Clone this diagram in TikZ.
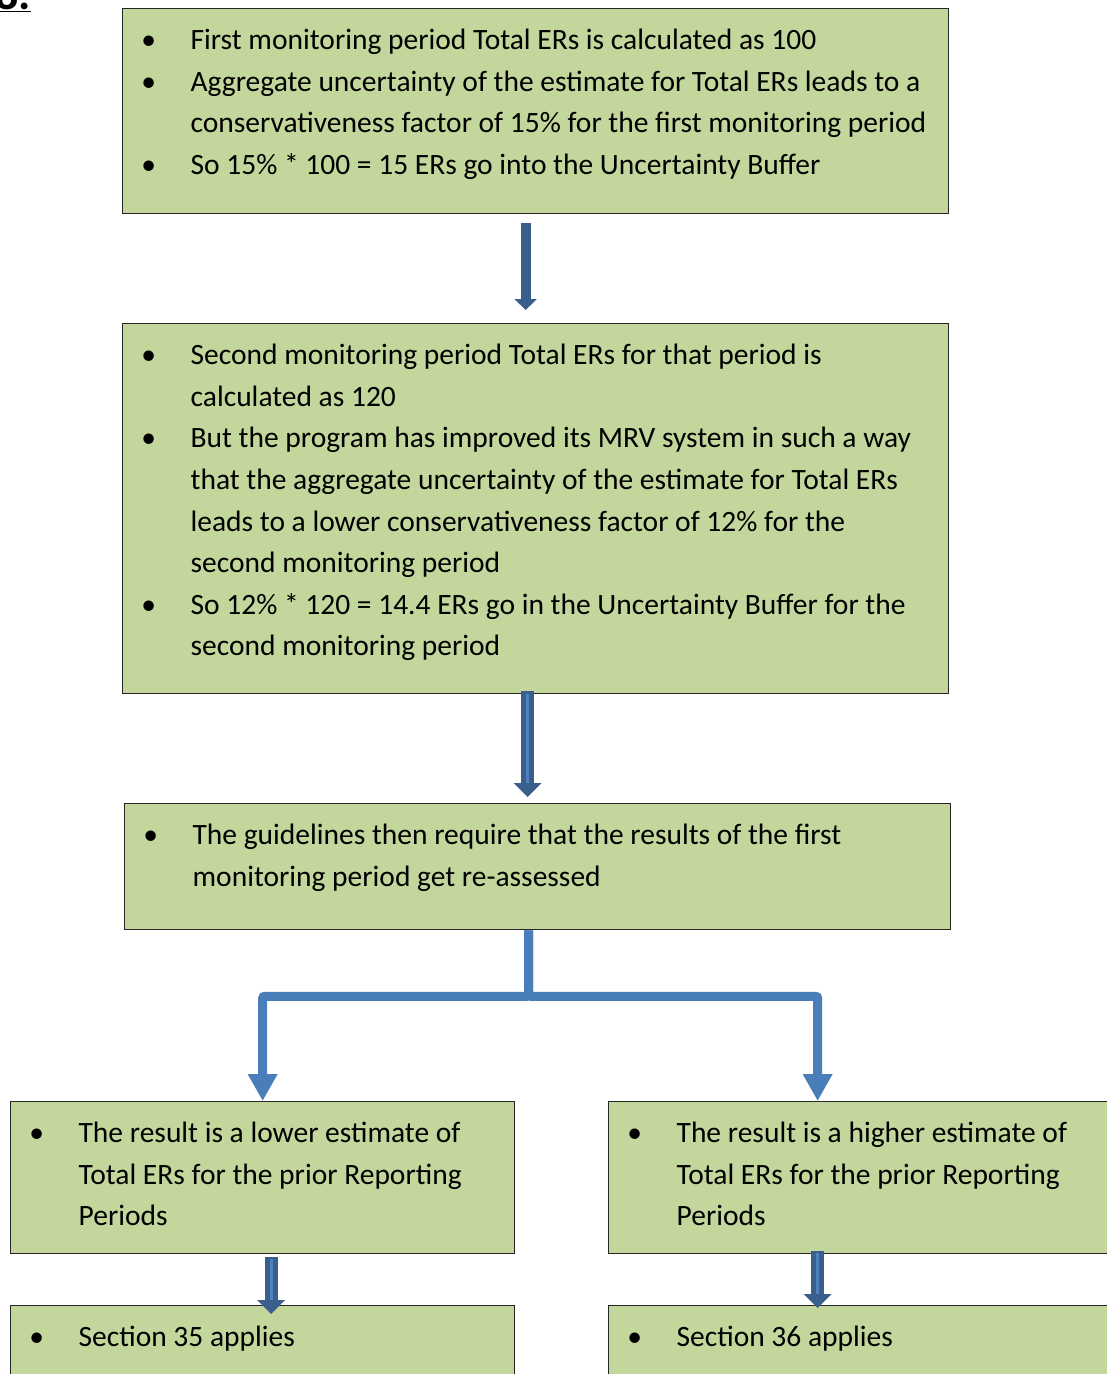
\documentclass[tikz,border=0pt]{standalone}
\usepackage{fontspec}
\setmainfont{Carlito}
\usetikzlibrary{arrows.meta,calc}

\definecolor{boxfill}{HTML}{C3D69B}
\definecolor{boxline}{HTML}{262626}
\definecolor{arrowdark}{HTML}{3A5F8C}
\definecolor{arrowlight}{HTML}{4F81BD}
\definecolor{forkblue}{HTML}{4A7EBB}

% one bulleted point, hanging under its first word
\newcommand{\bul}[1]{\par\noindent\hangindent=68pt\hangafter=1\hspace*{26pt}\makebox[0pt]{\textbullet}\hspace*{42pt}\rule{0pt}{31pt}#1\par}
% body of a box: width, height, points
\newcommand{\stagetext}[3]{\parbox[t][#2][t]{#1}{\raggedright\fontsize{29.5}{41.6}\selectfont\vspace*{10pt}#3}}

\begin{document}
\begin{tikzpicture}[x=1pt,y=-1pt,
    stage/.style={draw=boxline, fill=boxfill, line width=1.3pt, inner sep=0pt, anchor=north west},
    blockarrow/.style={draw=arrowdark, line width=13pt, -{Triangle[width=27pt,length=14pt]}},
    glint/.style={draw=arrowlight, line width=3pt},
    forkarrow/.style={draw=forkblue, line width=9pt, rounded corners=2pt, -{Triangle[width=28pt,length=27pt]}}]
    \useasboundingbox (0,0) rectangle (1107,1374);
    \clip (0,0) rectangle (1107,1374);
    % Heading, cut at the top
    \node[font=\fontsize{46}{50}\selectfont\bfseries, anchor=base east, inner sep=0pt] (heading) at (31,9) {\underline{8.}};
    % First monitoring period
    \node[stage] (b1) at (122,8) {\stagetext{826pt}{205pt}{%
        \bul{First monitoring period Total ERs is calculated as 100}
        \bul{Aggregate uncertainty of the estimate for Total ERs leads to a\newline conservativeness factor of 15\% for the first monitoring period}
        \bul{So 15\% * 100 = 15 ERs go into the Uncertainty Buffer}}};
    % Second monitoring period
    \node[stage] (b2) at (122,323) {\stagetext{826pt}{370pt}{%
        \bul{Second monitoring period Total ERs for that period is\newline calculated as 120}
        \bul{But the program has improved its MRV system in such a way\newline that the aggregate uncertainty of the estimate for Total ERs\newline leads to a lower conservativeness factor of 12\% for the\newline second monitoring period}
        \bul{So 12\% * 120 = 14.4 ERs go in the Uncertainty Buffer for the\newline second monitoring period}}};
    % Re-assessment
    \node[stage] (b3) at (124,803) {\stagetext{826pt}{126pt}{%
        \bul{The guidelines then require that the results of the first\newline monitoring period get re-assessed}}};
    % Two outcomes
    \node[stage] (b4) at (10,1101) {\stagetext{504pt}{152pt}{%
        \bul{The result is a lower estimate of\newline Total ERs for the prior Reporting\newline Periods}}};
    \node[stage] (b5) at (608,1101) {\stagetext{504pt}{152pt}{%
        \bul{The result is a higher estimate of\newline Total ERs for the prior Reporting\newline Periods}}};
    \node[stage] (b6) at (10,1305) {\stagetext{504pt}{120pt}{%
        \bul{Section 35 applies}}};
    \node[stage] (b7) at (608,1305) {\stagetext{504pt}{120pt}{%
        \bul{Section 36 applies}}};
    % Block arrows
    \draw[blockarrow, line width=10pt, -{Triangle[width=22pt,length=11pt]}] ($(b1.south)+(-10,9)$) -- ($(b2.north)+(-10,-13)$);
    \draw[blockarrow] ($(b2.south)+(-8,-3)$) -- ($(b3.north)+(-10,-6)$);
    \draw[glint] ($(b2.south)+(-8,0)$) -- ($(b3.north)+(-10,-20)$);
    \draw[blockarrow] ($(b4.south)+(8.5,3)$) -- ($(b6.north)+(8.5,9)$);
    \draw[glint] ($(b4.south)+(8.5,5)$) -- ($(b6.north)+(8.5,-5)$);
    \draw[blockarrow] ($(b5.south)+(-43,-3)$) -- ($(b7.north)+(-43,3)$);
    \draw[glint] ($(b5.south)+(-43,-1)$) -- ($(b7.north)+(-43,-11)$);
    % Split into the two outcomes
    \coordinate (drop) at ($(b5.north)+(-43,0)$);
    \draw[forkarrow] ($(b3.south)+(-9,0)$) -- ++(0,66) -| (b4.north);
    \draw[forkarrow] ($(b3.south)+(-9,0)$) -- ++(0,66) -| (drop);
\end{tikzpicture}
\end{document}
